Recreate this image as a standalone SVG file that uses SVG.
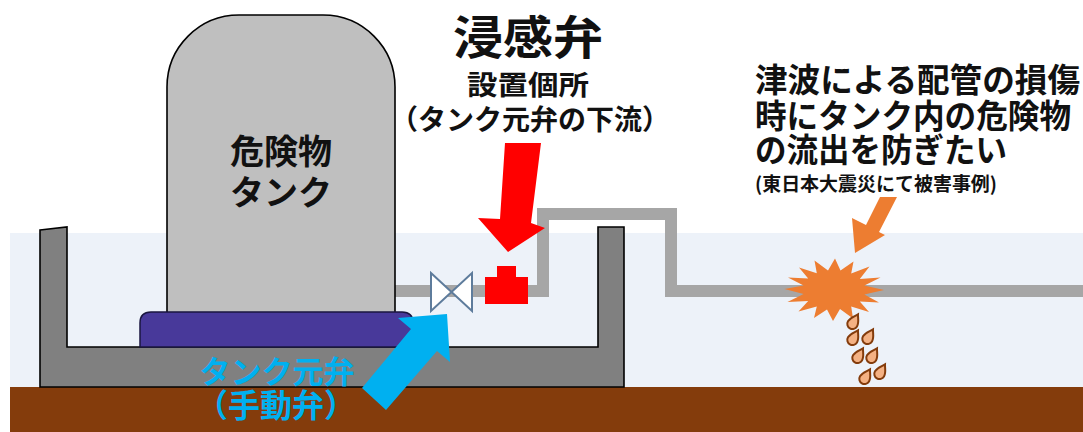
<svg xmlns="http://www.w3.org/2000/svg" width="1083" height="432" viewBox="0 0 1083 432">
  <style>
    .jp { font-family: "Noto Sans CJK JP", "Noto Sans CJK SC", sans-serif; font-weight: 700; }
    .dark { fill: #111111; }
    .blue { fill: #00B0F0; }
    .outline { stroke: #000000; stroke-width: 1.6; stroke-linejoin: miter; }
    .pipe { fill: none; stroke: #A6A6A6; stroke-width: 12; stroke-linejoin: miter; }
    .drop { fill: #F4B183; stroke: #843C0C; stroke-width: 2; }
  </style>
  <defs>
    <!-- teardrop pointing up; rotated where it is used -->
    <path id="dropShape" d="M0,-10 C1.8,-6.5 5.2,-3.5 5.2,1 A5.2,5.2 0 1 1 -5.2,1 C-5.2,-3.5 -1.8,-6.5 0,-10 Z"/>
  </defs>

  <!-- page -->
  <rect x="0" y="0" width="1083" height="432" fill="#FFFFFF"/>

  <!-- water band and ground -->
  <g id="ground">
    <rect x="10" y="233" width="1073" height="154" fill="#EDF2F9"/>
    <rect x="10" y="387" width="1073" height="45" fill="#843C0C"/>
  </g>

  <!-- dike: left wall, floor slab, right wall -->
  <g id="dike">
    <path class="outline" fill="#808080" d="M40,230 L67,227 L67,347 L598,347 L598,227 L624,227 L624,387 L40,387 Z"/>
  </g>

  <!-- piping from the tank out to the right -->
  <g id="piping">
    <polyline class="pipe" points="395,291 543,291 543,214 671,214 671,291 1083,291"/>
  </g>

  <!-- storage tank -->
  <g id="tank">
    <path class="outline" fill="#BFBFBF" d="M167,314 L167,87 A72,72 0 0 1 239,15 L323,15 A72,72 0 0 1 395,87 L395,314 Z"/>
    <text class="jp dark" x="281" y="164" font-size="34" text-anchor="middle">危険物</text>
    <text class="jp dark" x="281" y="205" font-size="34" text-anchor="middle">タンク</text>
  </g>

  <!-- tank foundation -->
  <g id="foundation">
    <path stroke="#1A1640" stroke-width="1.5" fill="#48399A" d="M140,347 L140,323 Q140,312 151,312 L402,312 Q413,312 413,323 L413,347 Z"/>
  </g>

  <!-- manual main valve (gate valve symbol) -->
  <g id="main-valve">
    <polygon points="431,273 472,311 472,273 431,311" fill="#FFFFFF" stroke="#5E7C9C" stroke-width="2" stroke-linejoin="miter"/>
  </g>

  <!-- flood-sensing valve -->
  <g id="sensor-valve">
    <rect x="497" y="266" width="19" height="12" fill="#FF0000"/>
    <rect x="485" y="277" width="43" height="27" fill="#FF0000"/>
  </g>

  <!-- pipe rupture -->
  <g id="rupture">
    <polygon fill="#ED7D31" points="884,290 864.4,294.5 879,302.5 859.8,301.6 869,312 851.2,306.5 853,318.5 840,309 833,321 827,309.5 814,318 816.8,306.5 798.5,311.5 808.2,301 787.5,302 803.6,294 784.5,289 803.6,285.5 788,277.5 808.2,278.5 799,267.5 816.8,273.2 814.5,260.5 828,270.5 835,258.5 840.5,270.5 853.5,261.5 851.2,273.5 869.5,266.5 859.8,279 880.5,277.5 864.4,285.5"/>
  </g>

  <!-- leaking droplets -->
  <g id="leak">
    <use href="#dropShape" class="drop" transform="translate(853,323) rotate(30)"/>
    <use href="#dropShape" class="drop" transform="translate(853,339) rotate(30)"/>
    <use href="#dropShape" class="drop" transform="translate(868,338) rotate(30)"/>
    <use href="#dropShape" class="drop" transform="translate(858,357) rotate(30)"/>
    <use href="#dropShape" class="drop" transform="translate(872,357) rotate(30)"/>
    <use href="#dropShape" class="drop" transform="translate(865,378) rotate(30)"/>
    <use href="#dropShape" class="drop" transform="translate(880,373) rotate(30)"/>
  </g>

  <!-- pointer arrows -->
  <g id="connectors">
    <polygon fill="#FF0000" points="505,143 541,143 531,223 545,228 508,252 478,218 500,219"/>
    <polygon fill="#00B0F0" points="362,388 386,410 437,351 450,362 447,314 398,318 411,329"/>
    <polygon fill="#ED7D31" points="880,197 897,197 879,232 885,235 855,253 852,218 866,225"/>
  </g>

  <!-- sensor valve label -->
  <g id="label-sensor">
    <text class="jp dark" x="528" y="54" font-size="46" text-anchor="middle" textLength="150" lengthAdjust="spacingAndGlyphs">浸感弁</text>
    <text class="jp dark" x="528" y="95" font-size="27" text-anchor="middle" textLength="122" lengthAdjust="spacingAndGlyphs">設置個所</text>
    <text class="jp dark" x="530" y="130" font-size="28" text-anchor="middle">（タンク元弁の下流）</text>
  </g>

  <!-- main valve label -->
  <g id="label-main-valve">
    <text class="jp blue" x="277" y="383" font-size="31" text-anchor="middle">タンク元弁</text>
    <text class="jp blue" x="276" y="417" font-size="32" text-anchor="middle">（手動弁）</text>
  </g>

  <!-- purpose note -->
  <g id="label-note">
    <text class="jp dark" x="755" y="92" font-size="33" textLength="325" lengthAdjust="spacingAndGlyphs">津波による配管の損傷</text>
    <text class="jp dark" x="755" y="128" font-size="33" textLength="316" lengthAdjust="spacingAndGlyphs">時にタンク内の危険物</text>
    <text class="jp dark" x="755" y="162" font-size="33" textLength="252" lengthAdjust="spacingAndGlyphs">の流出を防ぎたい</text>
    <text class="jp dark" x="755" y="191" font-size="19" textLength="242" lengthAdjust="spacingAndGlyphs">(東日本大震災にて被害事例)</text>
  </g>
</svg>
